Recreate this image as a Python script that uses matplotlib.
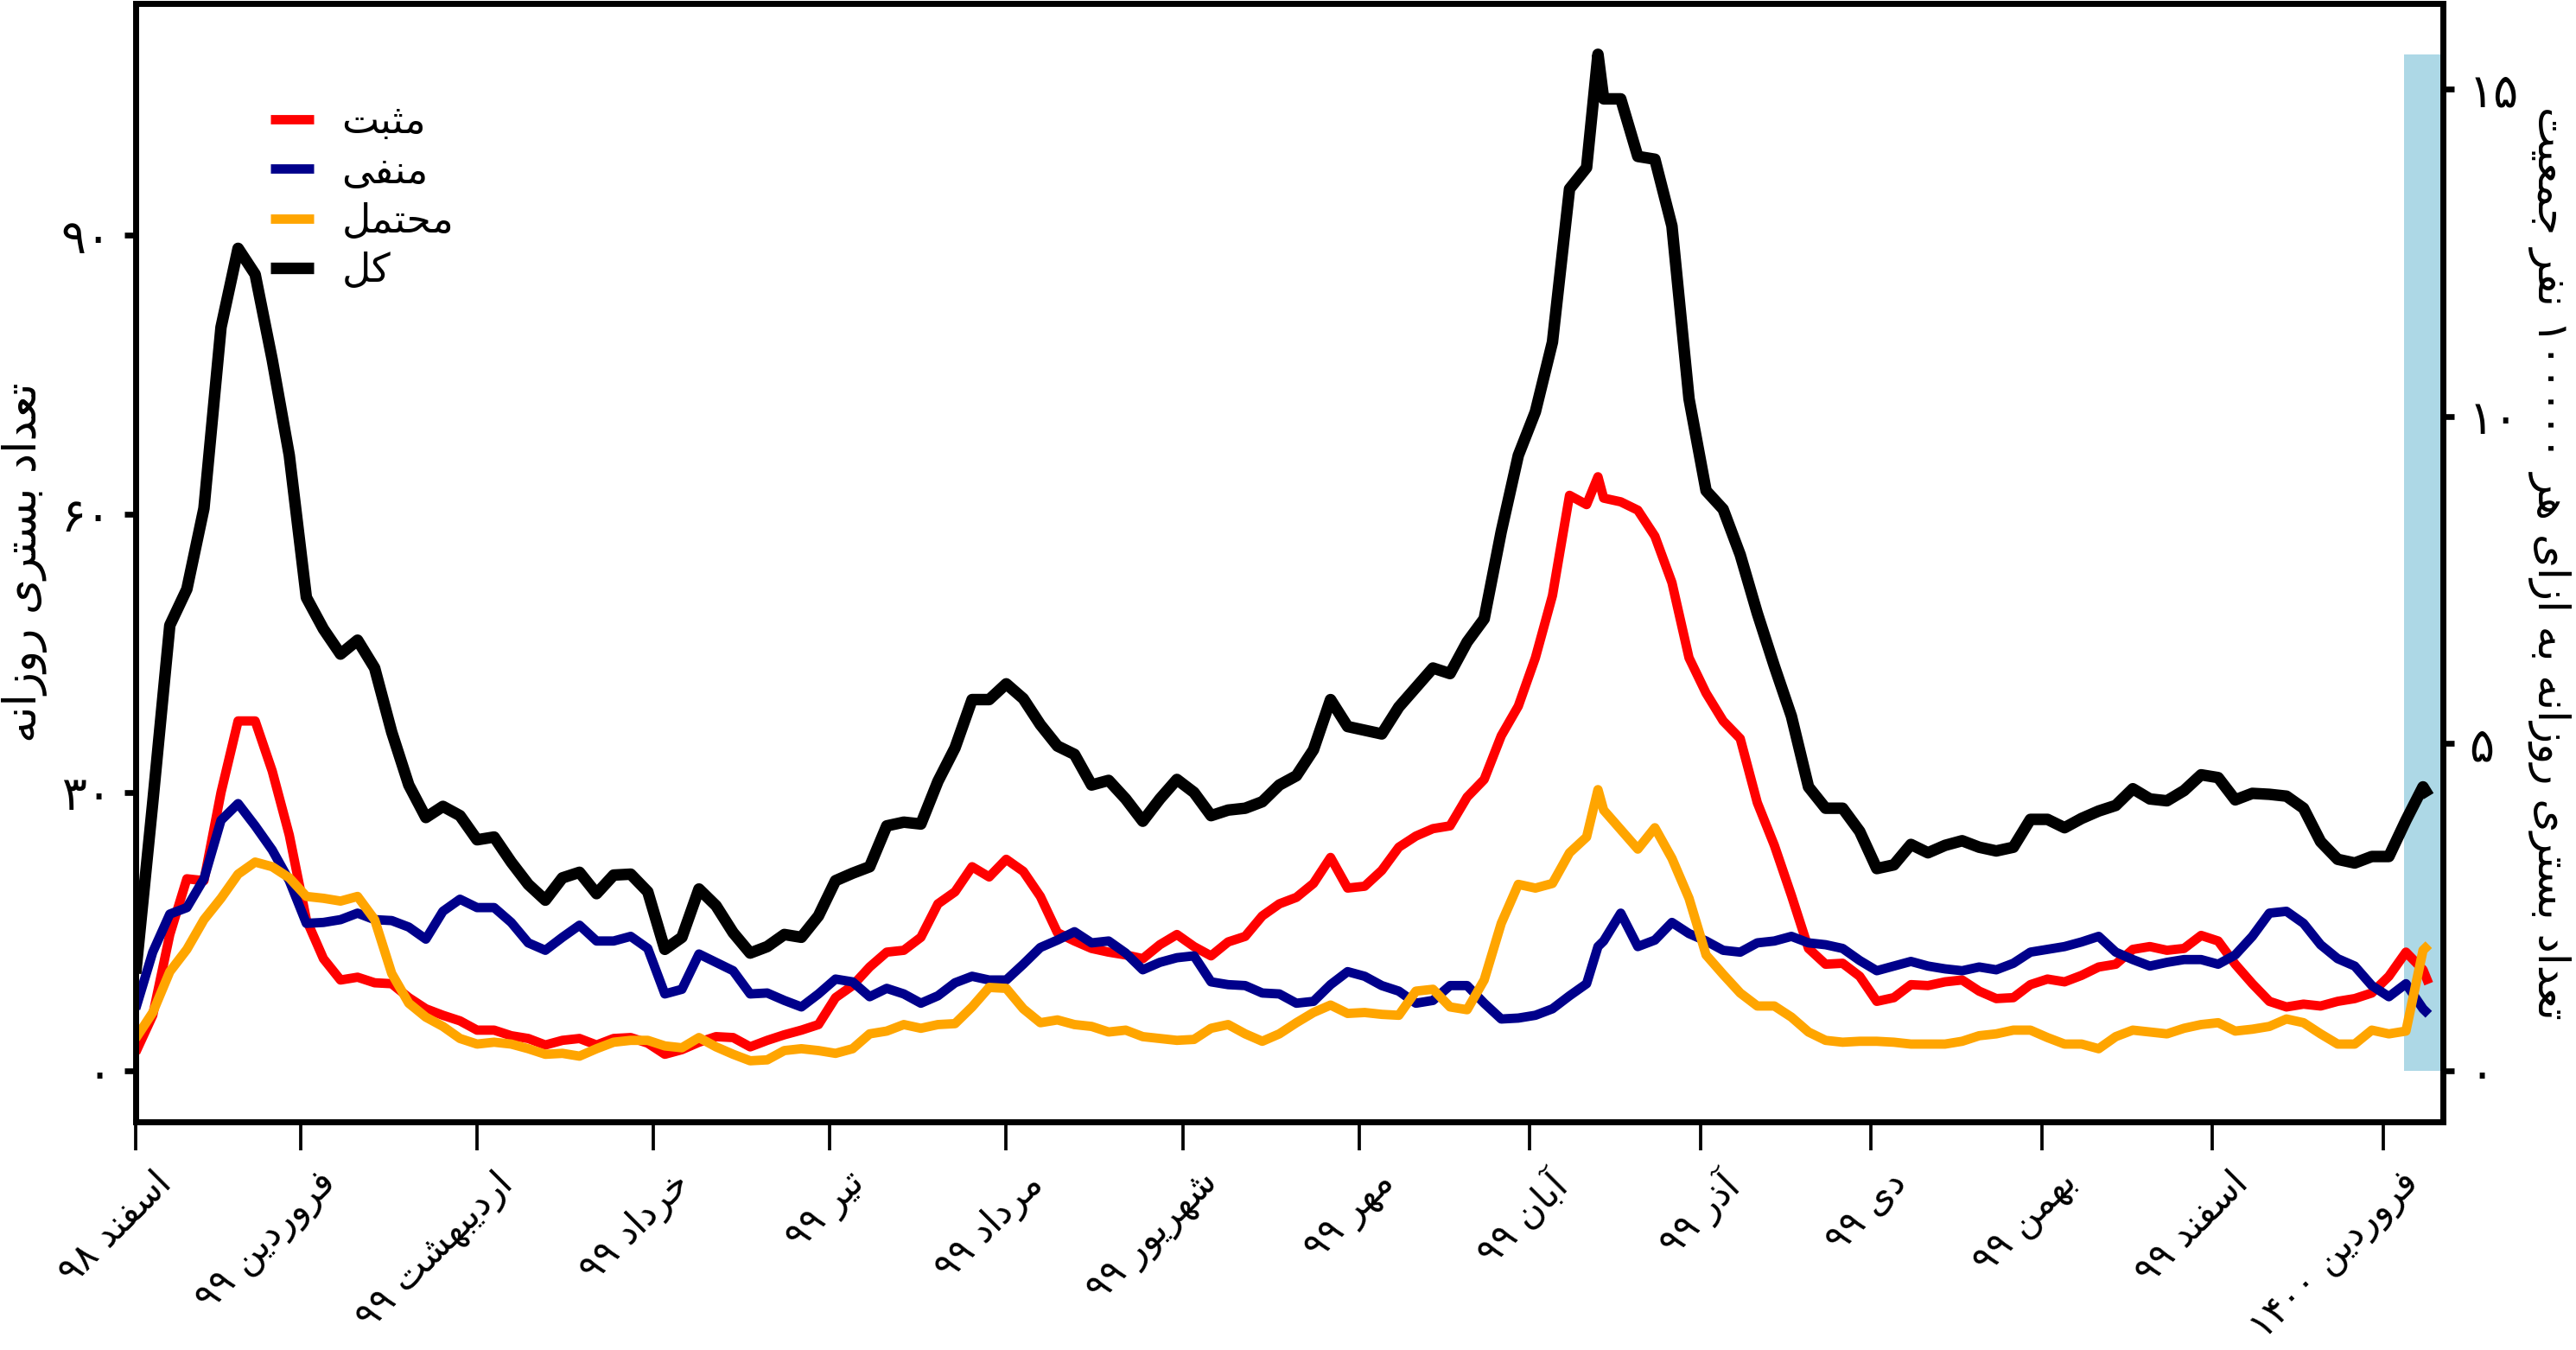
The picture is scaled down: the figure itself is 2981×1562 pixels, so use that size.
import re
import numpy as np
import matplotlib
matplotlib.use("Agg")
import matplotlib.pyplot as plt
from matplotlib.transforms import ScaledTranslation

plt.rcParams['font.family'] = ['DejaVu Sans']

# ---------------- data ----------------
days = list(range(0, 256, 3)) + [257] + list(range(258, 403, 3)) + [403]

total = [10.5, 28.9, 48.0, 51.9, 60.6, 80.1, 88.6, 85.8, 76.6, 66.3,
         51.0, 47.6, 44.9, 46.4, 43.4, 36.5, 30.8, 27.3, 28.5, 27.5,
         24.9, 25.2, 22.5, 20.1, 18.4, 20.8, 21.4, 19.1, 21.1, 21.2,
         19.3, 13.1, 14.4, 19.6, 17.8, 14.9, 12.7, 13.4, 14.7, 14.4,
         16.7, 20.5, 21.3, 22.0, 26.4, 26.8, 26.6, 31.2, 34.8, 40.0,
         40.0, 41.7, 40.1, 37.3, 35.0, 34.1, 30.8, 31.3, 29.3, 26.9,
         29.3, 31.4, 30.0, 27.5, 28.1, 28.3, 29.0, 30.8, 31.8, 34.6,
         40.0, 37.1, 36.7, 36.3, 39.2, 41.3, 43.4, 42.8, 46.2, 48.7,
         58.1, 66.3, 71.0, 78.5, 95.0, 97.3,
         109.5,
         104.7, 104.7, 98.5, 98.2, 91.0, 72.4, 62.5, 60.5, 55.6, 49.3,
         43.6, 38.2, 30.6, 28.3, 28.3, 25.8, 21.8, 22.2, 24.4, 23.5,
         24.3, 24.8, 24.1, 23.7, 24.1, 27.1, 27.1, 26.2, 27.2, 28.0,
         28.6, 30.4, 29.3, 29.1, 30.2, 31.9, 31.6, 29.2, 29.9, 29.8,
         29.6, 28.3, 24.7, 22.8, 22.4, 23.1, 23.1, 27.0, 30.6,
         29.6]

positive = [2.0, 6.0, 14.7, 20.7, 20.5, 30.0, 37.7, 37.7, 32.3, 25.4,
            16.3, 12.1, 9.8, 10.1, 9.5, 9.4, 7.9, 6.7, 6.0, 5.4,
            4.4, 4.4, 3.8, 3.5, 2.8, 3.3, 3.5, 2.8, 3.5, 3.6,
            3.0, 1.8, 2.3, 3.1, 3.7, 3.6, 2.6, 3.3, 3.9, 4.4,
            5.0, 7.9, 9.2, 11.2, 12.8, 13.0, 14.4, 18.0, 19.3, 22.0,
            20.9, 22.8, 21.5, 18.8, 14.9, 14.0, 13.2, 12.8, 12.5, 12.1,
            13.6, 14.7, 13.4, 12.4, 13.9, 14.5, 16.7, 18.0, 18.7, 20.2,
            23.0, 19.7, 19.9, 21.6, 24.1, 25.3, 26.1, 26.4, 29.5, 31.4,
            36.1, 39.3, 44.5, 51.2, 62.0, 61.0,
            64.0,
            61.7, 61.3, 60.4, 57.6, 52.6, 44.5, 40.7, 37.7, 35.8, 28.9,
            24.3, 18.9, 13.2, 11.5, 11.6, 10.2, 7.5, 7.9, 9.3, 9.2,
            9.6, 9.8, 8.6, 7.8, 7.9, 9.3, 9.9, 9.6, 10.3, 11.2,
            11.5, 13.1, 13.4, 13.0, 13.2, 14.6, 14.0, 11.5, 9.4, 7.5,
            6.9, 7.2, 7.0, 7.5, 7.8, 8.4, 10.2, 12.8, 10.9,
            9.4]

negative = [6.7, 12.8, 16.9, 17.6, 20.7, 27.0, 28.8, 26.4, 23.8, 20.5,
            15.9, 16.0, 16.3, 17.0, 16.3, 16.2, 15.5, 14.2, 17.2, 18.5,
            17.6, 17.6, 16.0, 13.8, 13.0, 14.4, 15.7, 14.0, 14.0, 14.5,
            13.2, 8.3, 8.8, 12.6, 11.7, 10.8, 8.3, 8.4, 7.6, 6.9,
            8.3, 9.9, 9.6, 8.0, 8.9, 8.3, 7.3, 8.1, 9.5, 10.2,
            9.8, 9.8, 11.5, 13.3, 14.1, 15.0, 13.8, 14.0, 12.7, 10.9,
            11.7, 12.2, 12.4, 9.6, 9.3, 9.2, 8.4, 8.3, 7.3, 7.5,
            9.3, 10.7, 10.2, 9.2, 8.6, 7.3, 7.6, 9.2, 9.2, 7.3,
            5.6, 5.7, 6.0, 6.7, 8.1, 9.4,
            13.4,
            14.0, 17.0, 13.4, 14.1, 16.0, 14.8, 14.0, 13.0, 12.8, 13.8,
            14.0, 14.5, 13.8, 13.6, 13.2, 11.9, 10.8, 11.3, 11.8, 11.3,
            11.0, 10.8, 11.2, 10.9, 11.6, 12.8, 13.1, 13.4, 13.9, 14.5,
            12.8, 12.0, 11.3, 11.7, 12.0, 12.0, 11.5, 12.5, 14.5, 17.0,
            17.2, 15.9, 13.6, 12.1, 11.3, 9.2, 8.0, 9.4, 6.7,
            6.1]

probable = [3.5, 6.3, 10.7, 13.1, 16.3, 18.6, 21.2, 22.5, 22.0, 20.8,
            18.8, 18.6, 18.3, 18.8, 16.3, 10.5, 7.3, 5.8, 4.8, 3.5,
            2.9, 3.1, 2.9, 2.4, 1.8, 1.9, 1.6, 2.4, 3.1, 3.3,
            3.3, 2.7, 2.5, 3.6, 2.6, 1.8, 1.1, 1.2, 2.2, 2.4,
            2.2, 1.9, 2.4, 4.0, 4.3, 5.0, 4.6, 5.0, 5.1, 6.9,
            9.0, 8.9, 6.7, 5.2, 5.5, 5.0, 4.8, 4.2, 4.4, 3.7,
            3.5, 3.3, 3.4, 4.6, 5.0, 4.0, 3.2, 4.0, 5.2, 6.3,
            7.1, 6.2, 6.3, 6.1, 6.0, 8.6, 8.8, 6.9, 6.6, 9.8,
            15.9, 20.1, 19.7, 20.2, 23.5, 25.2,
            30.3,
            28.1, 26.0, 23.9, 26.2, 22.9, 18.6, 12.5, 10.4, 8.4, 7.0,
            7.0, 5.8, 4.2, 3.3, 3.1, 3.2, 3.2, 3.1, 2.9, 2.9,
            2.9, 3.2, 3.8, 4.0, 4.4, 4.4, 3.6, 2.9, 2.9, 2.4,
            3.7, 4.4, 4.2, 4.0, 4.6, 5.0, 5.2, 4.3, 4.5, 4.8,
            5.6, 5.2, 4.0, 2.9, 2.9, 4.4, 4.0, 4.3, 13.0,
            13.6]

series_labels = ['مثبت', 'منفی', 'محتمل', 'کل']
series_colors = ['#ff0000', '#00008b', '#ffa500', '#000000']

month_lengths = [29, 31, 31, 31, 31, 31, 31, 30, 30, 30, 30, 30, 30]
month_labels = ['اسفند ۹۸', 'فروردین ۹۹', 'اردیبهشت ۹۹', 'خرداد ۹۹', 'تیر ۹۹',
                'مرداد ۹۹', 'شهریور ۹۹', 'مهر ۹۹', 'آبان ۹۹', 'آذر ۹۹',
                'دی ۹۹', 'بهمن ۹۹', 'اسفند ۹۹', 'فروردین ۱۴۰۰']

left_ticks = [0, 30, 60, 90]
right_ticks = [0, 5, 10, 15]
population = 705000          # per-100000 scaling of the right axis
incomplete_period = (398.6, 405.3)   # last, still-incomplete days (shaded)

ylabel_left = 'تعداد بستری روزانه'
ylabel_right = 'تعداد بستری روزانه به ازای هر ۱۰۰۰۰۰ نفر جمعیت'

# ------------- minimal Persian shaping (presentation forms + visual order) -------------
FORMS = {
    'ا': ('\uFE8D', '\uFE8E', None, None), 'آ': ('\uFE81', '\uFE82', None, None),
    'ب': ('\uFE8F', '\uFE90', '\uFE91', '\uFE92'), 'پ': ('\uFB56', '\uFB57', '\uFB58', '\uFB59'),
    'ت': ('\uFE95', '\uFE96', '\uFE97', '\uFE98'), 'ث': ('\uFE99', '\uFE9A', '\uFE9B', '\uFE9C'),
    'ج': ('\uFE9D', '\uFE9E', '\uFE9F', '\uFEA0'), 'ح': ('\uFEA1', '\uFEA2', '\uFEA3', '\uFEA4'),
    'خ': ('\uFEA5', '\uFEA6', '\uFEA7', '\uFEA8'), 'د': ('\uFEA9', '\uFEAA', None, None),
    'ذ': ('\uFEAB', '\uFEAC', None, None), 'ر': ('\uFEAD', '\uFEAE', None, None),
    'ز': ('\uFEAF', '\uFEB0', None, None), 'ژ': ('\uFB8A', '\uFB8B', None, None),
    'س': ('\uFEB1', '\uFEB2', '\uFEB3', '\uFEB4'), 'ش': ('\uFEB5', '\uFEB6', '\uFEB7', '\uFEB8'),
    'ع': ('\uFEC9', '\uFECA', '\uFECB', '\uFECC'), 'ف': ('\uFED1', '\uFED2', '\uFED3', '\uFED4'),
    'ک': ('\uFB8E', '\uFB8F', '\uFB90', '\uFB91'), 'گ': ('\uFB92', '\uFB93', '\uFB94', '\uFB95'),
    'ل': ('\uFEDD', '\uFEDE', '\uFEDF', '\uFEE0'), 'م': ('\uFEE1', '\uFEE2', '\uFEE3', '\uFEE4'),
    'ن': ('\uFEE5', '\uFEE6', '\uFEE7', '\uFEE8'), 'ه': ('\uFEE9', '\uFEEA', '\uFEEB', '\uFEEC'),
    'و': ('\uFEED', '\uFEEE', None, None), 'ی': ('\uFBFC', '\uFBFD', '\uFBFE', '\uFBFF'),
}


def fa(text):
    out = []
    for i, c in enumerate(text):
        if c not in FORMS:
            out.append(c)
            continue
        prev = text[i - 1] if i > 0 else ''
        nxt = text[i + 1] if i + 1 < len(text) else ''
        jp = prev in FORMS and FORMS[prev][2] is not None
        jn = FORMS[c][2] is not None and nxt in FORMS
        iso, fin, ini, med = FORMS[c]
        if jp and jn:
            out.append(med)
        elif jp:
            out.append(fin)
        elif jn:
            out.append(ini)
        else:
            out.append(iso)
    vis = ''.join(out)[::-1]
    return re.sub(r'[0-9\u06F0-\u06F9]+', lambda m: m.group(0)[::-1], vis)


def fa_num(n):
    return str(n).translate(str.maketrans('0123456789', '۰۱۲۳۴۵۶۷۸۹'))


# ---------------- figure ----------------
fig = plt.figure(figsize=(2981 / 300, 1562 / 300), dpi=300)
ax = fig.add_axes([157 / 2981, 1 - 1298 / 1562, (2827 - 157) / 2981, (1298 - 4) / 1562])

x = np.array(days, dtype=float)
ax.fill_between(incomplete_period, 0, max(total), color='#add8e6', lw=0, zorder=0)
for vals, lab, col in zip([positive, negative, probable, total], series_labels, series_colors):
    lw = 3.2 if col == '#000000' else 2.6
    ax.plot(x, vals, color=col, lw=lw, label=fa(lab),
            solid_joinstyle='round', solid_capstyle='butt')

ax.set_xlim(days[0], 405.5)
ax.margins(y=0.05)
ax.autoscale_view()
y0, y1 = ax.get_ylim()

ticks_x = np.concatenate([[0], np.cumsum(month_lengths)])
ax.set_xticks(ticks_x)
ax.set_xticklabels([fa(m) for m in month_labels], rotation=45, ha='right', va='top',
                   rotation_mode='anchor', fontsize=10.3)
ax.set_yticks(left_ticks)
ax.set_yticklabels([fa_num(t) for t in left_ticks], fontsize=13)

ax.tick_params(axis='x', length=8, width=0.9, pad=4)
ax.tick_params(axis='y', length=3.2, width=1.6, pad=3.5)
for s in ax.spines.values():
    s.set_linewidth(1.6)

ax2 = ax.twinx()
scale = 100000 / population
ax2.set_ylim(y0 * scale, y1 * scale)
ax2.set_yticks(right_ticks)
ax2.set_yticklabels([fa_num(t) for t in right_ticks], fontsize=13)
ax2.tick_params(axis='y', length=3.2, width=1.6, pad=4)
for s in ax2.spines.values():
    s.set_linewidth(1.6)

offset = ScaledTranslation(20 / 300, 0, fig.dpi_scale_trans)
for lbl in ax.get_xticklabels():
    lbl.set_transform(lbl.get_transform() + offset)

ax.set_ylabel(fa(ylabel_left), fontsize=12.5, rotation=90, va='center', ha='center')
ax.yaxis.set_label_coords(-0.0483, 0.5)
ax2.set_ylabel(fa(ylabel_right), fontsize=12, rotation=270, va='center', ha='center')
ax2.yaxis.set_label_coords(1.046, 0.5)

ax.legend(loc='upper left', bbox_to_anchor=(0.0584, 0.911), frameon=False, fontsize=11,
          handlelength=1.1, handletextpad=0.7, labelspacing=0.27, borderpad=0, borderaxespad=0)

fig.savefig('out.png', dpi=300)
